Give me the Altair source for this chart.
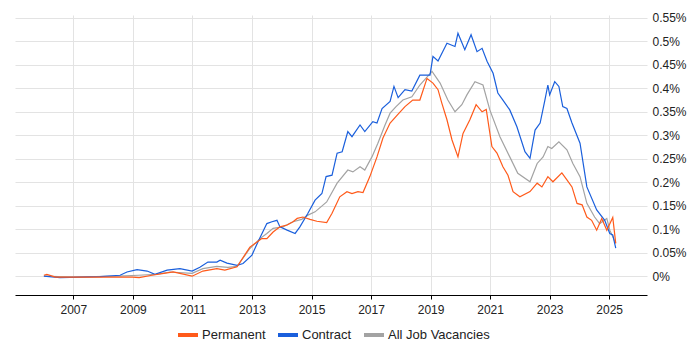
import altair as alt
import pandas as pd

series_names = ["Permanent", "Contract", "All Job Vacancies"]
series_colors = ["#FF5A1A", "#1A5FDC", "#A3A3A3"]

perm_years = [2006.01, 2006.11, 2006.40, 2007.99, 2008.99, 2009.21, 2009.64, 2010.15, 2010.35, 2010.99,
              2011.35, 2011.82, 2012.09, 2012.50, 2012.93, 2013.33, 2013.50, 2013.71, 2013.94, 2014.18,
              2014.38, 2014.52, 2014.71, 2014.95, 2015.18, 2015.51, 2015.69, 2015.95, 2016.19, 2016.36,
              2016.56, 2016.73, 2016.96, 2017.20, 2017.40, 2017.64, 2017.88, 2018.14, 2018.40, 2018.64,
              2018.88, 2019.08, 2019.25, 2019.38, 2019.55, 2019.72, 2019.92, 2020.09, 2020.32, 2020.53,
              2020.73, 2020.87, 2021.06, 2021.23, 2021.43, 2021.60, 2021.77, 2022.00, 2022.34, 2022.58,
              2022.74, 2022.94, 2023.11, 2023.41, 2023.58, 2023.75, 2023.92, 2024.09, 2024.25, 2024.41,
              2024.58, 2024.75, 2024.92, 2025.12, 2025.22]
perm_values = [0.002, 0.004, -0.002, -0.002, -0.002, -0.003, 0.002, 0.007, 0.009, 0.000,
               0.011, 0.016, 0.013, 0.020, 0.062, 0.080, 0.080, 0.094, 0.105, 0.109,
               0.116, 0.123, 0.126, 0.121, 0.117, 0.114, 0.134, 0.169, 0.180, 0.176,
               0.180, 0.178, 0.212, 0.254, 0.294, 0.326, 0.343, 0.361, 0.375, 0.375,
               0.421, 0.411, 0.397, 0.368, 0.333, 0.290, 0.254, 0.304, 0.333, 0.365,
               0.350, 0.355, 0.276, 0.262, 0.233, 0.215, 0.180, 0.169, 0.180, 0.198,
               0.190, 0.212, 0.201, 0.220, 0.205, 0.190, 0.155, 0.152, 0.126, 0.119,
               0.098, 0.123, 0.098, 0.125, 0.070]

contract_years = [2006.01, 2006.55, 2007.89, 2008.57, 2008.80, 2009.14, 2009.48, 2009.74, 2010.15, 2010.58,
                  2010.99, 2011.25, 2011.52, 2011.82, 2011.93, 2012.16, 2012.50, 2012.70, 2013.00, 2013.20,
                  2013.50, 2013.67, 2013.84, 2013.94, 2014.18, 2014.45, 2014.61, 2014.88, 2015.12, 2015.35,
                  2015.49, 2015.69, 2015.86, 2016.03, 2016.22, 2016.36, 2016.63, 2016.79, 2017.06, 2017.20,
                  2017.37, 2017.64, 2017.77, 2017.91, 2018.14, 2018.37, 2018.64, 2018.98, 2019.08, 2019.25,
                  2019.55, 2019.82, 2019.92, 2020.15, 2020.36, 2020.56, 2020.73, 2020.90, 2021.10, 2021.26,
                  2021.43, 2021.66, 2021.90, 2022.17, 2022.34, 2022.51, 2022.68, 2022.84, 2022.94, 2023.00,
                  2023.17, 2023.31, 2023.44, 2023.58, 2023.75, 2024.02, 2024.25, 2024.58, 2024.85, 2025.02,
                  2025.12, 2025.22]
contract_values = [0.000, -0.003, -0.001, 0.002, 0.009, 0.014, 0.011, 0.004, 0.013, 0.016,
                   0.011, 0.019, 0.030, 0.030, 0.034, 0.028, 0.023, 0.027, 0.045, 0.073,
                   0.112, 0.116, 0.119, 0.105, 0.098, 0.091, 0.105, 0.134, 0.162, 0.176,
                   0.212, 0.215, 0.262, 0.265, 0.308, 0.297, 0.322, 0.308, 0.329, 0.326,
                   0.357, 0.372, 0.404, 0.380, 0.397, 0.394, 0.428, 0.428, 0.468, 0.458,
                   0.496, 0.489, 0.517, 0.482, 0.514, 0.478, 0.485, 0.457, 0.432, 0.390,
                   0.375, 0.354, 0.318, 0.265, 0.251, 0.311, 0.326, 0.375, 0.407, 0.386,
                   0.414, 0.404, 0.361, 0.357, 0.326, 0.283, 0.190, 0.141, 0.119, 0.091,
                   0.088, 0.060]

all_years = [2006.01, 2007.00, 2008.49, 2009.19, 2009.78, 2010.25, 2010.99, 2011.35, 2011.82, 2012.19,
             2012.50, 2012.93, 2013.27, 2013.50, 2013.71, 2014.04, 2014.38, 2014.67, 2014.88, 2015.12,
             2015.51, 2015.86, 2016.22, 2016.39, 2016.63, 2016.79, 2017.03, 2017.23, 2017.47, 2017.64,
             2017.84, 2018.07, 2018.37, 2018.64, 2019.05, 2019.32, 2019.58, 2019.82, 2020.05, 2020.22,
             2020.49, 2020.76, 2020.99, 2021.33, 2021.66, 2021.93, 2022.34, 2022.58, 2022.78, 2022.94,
             2023.07, 2023.31, 2023.58, 2023.78, 2024.02, 2024.25, 2024.51, 2024.68, 2024.92, 2025.02,
             2025.22]
all_values = [0.000, -0.002, 0.000, 0.002, 0.004, 0.009, 0.006, 0.016, 0.021, 0.019,
              0.021, 0.059, 0.080, 0.091, 0.102, 0.105, 0.116, 0.121, 0.130, 0.137,
              0.158, 0.198, 0.226, 0.222, 0.233, 0.226, 0.254, 0.283, 0.322, 0.347,
              0.361, 0.375, 0.382, 0.407, 0.436, 0.411, 0.375, 0.350, 0.365, 0.386,
              0.414, 0.407, 0.354, 0.297, 0.254, 0.219, 0.201, 0.240, 0.254, 0.276,
              0.272, 0.286, 0.269, 0.240, 0.212, 0.155, 0.126, 0.112, 0.123, 0.098,
              0.070]

year_ticks = [2007, 2009, 2011, 2013, 2015, 2017, 2019, 2021, 2023, 2025]
pct_ticks = [0, 0.05, 0.1, 0.15, 0.2, 0.25, 0.3, 0.35, 0.4, 0.45, 0.5, 0.55]

rows = []
for name, ys, vs in [("All Job Vacancies", all_years, all_values),
                     ("Contract", contract_years, contract_values),
                     ("Permanent", perm_years, perm_values)]:
    for i, (y, v) in enumerate(zip(ys, vs)):
        rows.append({"series": name, "year": y, "value": v, "order": i})
df = pd.DataFrame(rows)

font = "Liberation Sans"

chart = alt.Chart(df).mark_line(strokeWidth=1.2).encode(
    x=alt.X("year:Q",
            scale=alt.Scale(domain=[2005.04, 2026.27], nice=False, zero=False),
            axis=alt.Axis(values=year_ticks, format="d", title=None, grid=True,
                          gridColor="#e3e3e3", domainColor="#000000", tickColor="#000000",
                          tickSize=4, labelFontSize=12, labelFont=font, labelColor="#222222",
                          labelPadding=5)),
    y=alt.Y("value:Q",
            scale=alt.Scale(domain=[-0.04, 0.556], nice=False, zero=False),
            axis=alt.Axis(orient="right", values=pct_ticks, title=None, grid=True,
                          gridColor="#e3e3e3", domain=False, ticks=False,
                          labelExpr="format(datum.value, '.2~f') + '%'",
                          labelFontSize=12, labelFont=font, labelColor="#222222",
                          labelPadding=5)),
    color=alt.Color("series:N",
                    scale=alt.Scale(domain=series_names, range=series_colors),
                    legend=alt.Legend(orient="none", legendX=161, legendY=308,
                                      direction="horizontal", title=None,
                                      symbolType="stroke", symbolStrokeWidth=4, symbolSize=400,
                                      labelFontSize=13, labelFont=font, labelColor="#222222",
                                      columnPadding=4, labelOffset=2)),
    detail="series:N",
    order="order:Q",
).properties(
    width=632,
    height=280,
    autosize=alt.AutoSizeParams(type="none"),
    padding={"left": 7, "top": 7, "right": 45, "bottom": 47},
).configure_view(stroke=None)

chart.save("out.html", embed_options={"renderer": "svg", "actions": False})
